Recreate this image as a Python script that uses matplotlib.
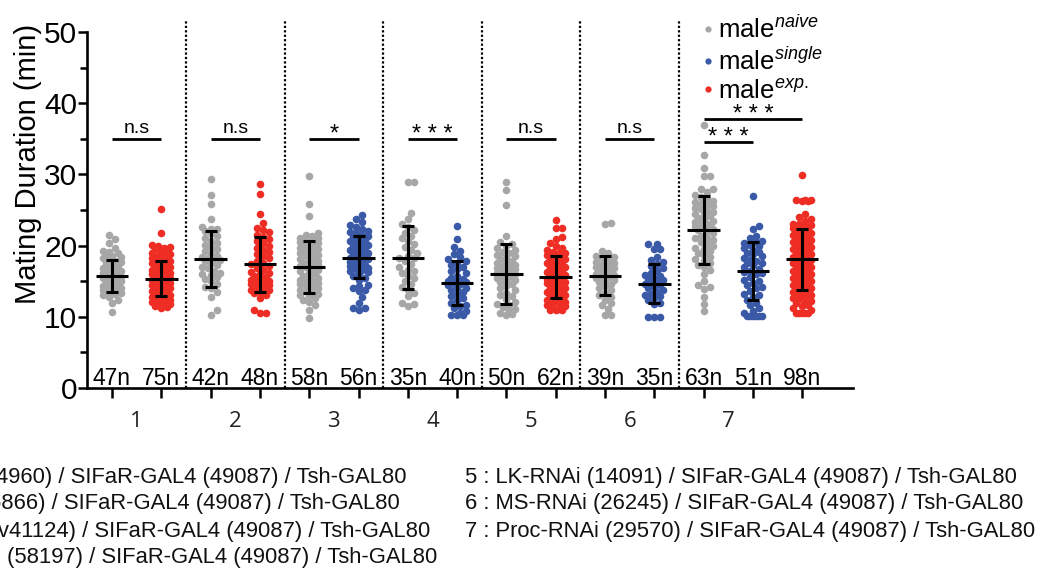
import numpy as np
import matplotlib
matplotlib.use("Agg")
import matplotlib.pyplot as plt
from matplotlib.lines import Line2D

plt.rcParams['font.family'] = ['Liberation Sans', 'DejaVu Sans']
plt.rcParams['mathtext.fontset'] = 'custom'
plt.rcParams['mathtext.rm'] = 'Liberation Sans'
plt.rcParams['mathtext.it'] = 'Liberation Sans:italic'

# ---- data (mating duration, min) ----
naive_1 = [10.7, 12.0, 12.4, 12.8, 13.0, 13.2, 13.4, 13.5, 13.7, 13.9, 14.0, 14.1, 14.3, 14.5, 14.7, 14.9,
           15.0, 15.2, 15.3, 15.5, 15.6, 15.7, 15.7, 15.9, 16.0, 16.2, 16.4, 16.5, 16.7, 16.9, 17.1, 17.3,
           17.5, 17.7, 17.9, 18.0, 18.2, 18.4, 18.6, 18.8, 19.0, 19.1, 19.3, 19.6, 20.3, 20.9, 21.5]
exp_1 = [11.2, 11.4, 11.5, 11.6, 11.8, 12.0, 12.1, 12.3, 12.4, 12.5, 12.6, 12.7, 12.8, 12.9, 13.0, 13.1,
         13.3, 13.4, 13.5, 13.6, 13.8, 13.9, 14.0, 14.1, 14.3, 14.4, 14.5, 14.6, 14.8, 14.9, 15.0, 15.1,
         15.2, 15.3, 15.3, 15.4, 15.5, 15.6, 15.7, 15.8, 16.0, 16.1, 16.2, 16.3, 16.5, 16.6, 16.7, 16.8,
         17.0, 17.1, 17.2, 17.4, 17.5, 17.6, 17.7, 17.8, 17.9, 18.0, 18.2, 18.3, 18.5, 18.6, 18.8, 19.0,
         19.1, 19.3, 19.5, 19.6, 19.8, 19.9, 20.1, 14.2, 16.4, 21.8, 25.1]
naive_2 = [10.3, 11.0, 12.8, 13.5, 14.0, 14.2, 14.6, 15.0, 15.3, 15.6, 15.9, 16.0, 16.2, 16.5, 16.8, 17.0,
           17.3, 17.6, 17.8, 18.0, 18.1, 18.2, 18.4, 18.6, 18.9, 19.2, 19.5, 19.8, 20.1, 20.4, 20.7, 21.0,
           21.4, 21.8, 22.1, 22.3, 22.4, 22.6, 23.8, 25.8, 27.1, 29.3]
exp_2 = [10.5, 10.5, 11.0, 12.6, 13.0, 13.3, 13.5, 13.7, 13.8, 14.0, 14.2, 14.4, 14.6, 14.8, 14.9, 15.0,
         15.2, 15.4, 15.6, 15.8, 16.0, 16.1, 16.3, 16.6, 16.9, 17.2, 17.4, 17.6, 17.9, 18.2, 18.5, 18.8,
         19.1, 19.4, 19.7, 20.0, 20.3, 20.6, 20.9, 21.2, 21.5, 21.9, 22.2, 22.5, 23.2, 24.5, 27.2, 28.7]
naive_3 = [9.9, 10.9, 11.6, 12.1, 12.4, 12.7, 12.9, 13.0, 13.2, 13.4, 13.6, 13.8, 14.0, 14.2, 14.4, 14.6,
           14.8, 15.0, 15.1, 15.2, 15.4, 15.6, 15.8, 16.0, 16.2, 16.4, 16.6, 16.8, 17.0, 17.1, 17.3, 17.5,
           17.6, 17.7, 17.9, 18.1, 18.3, 18.5, 18.7, 18.9, 19.1, 19.3, 19.5, 19.7, 19.9, 20.1, 20.3, 20.5,
           20.6, 20.8, 21.0, 21.1, 21.3, 21.5, 21.7, 24.2, 25.8, 29.8]
single_3 = [10.9, 11.2, 11.3, 12.0, 12.8, 13.6, 13.8, 14.0, 14.3, 14.5, 15.2, 15.5, 15.8, 16.0, 16.3, 16.5,
            16.6, 16.7, 16.9, 17.0, 17.1, 17.3, 17.5, 17.7, 17.9, 18.1, 18.2, 18.3, 18.4, 18.6, 18.8, 18.9,
            19.0, 19.2, 19.4, 19.6, 19.8, 20.0, 20.1, 20.2, 20.4, 20.6, 20.8, 21.0, 21.2, 21.3, 21.5, 21.7,
            21.9, 22.1, 22.3, 22.6, 22.9, 23.3, 23.7, 24.3]
naive_4 = [11.5, 11.8, 11.9, 12.9, 13.4, 13.8, 14.2, 14.6, 15.0, 15.4, 15.8, 16.2, 16.4, 16.6, 17.0, 17.4,
           17.8, 18.2, 18.3, 18.6, 19.0, 19.4, 19.8, 20.2, 20.6, 21.0, 21.4, 21.8, 22.2, 22.6, 23.0, 23.8,
           24.6, 28.9, 28.9]
single_4 = [10.2, 10.2, 10.3, 10.5, 10.8, 11.2, 11.5, 11.7, 12.0, 12.3, 12.6, 12.9, 13.2, 13.5, 13.8, 14.0,
            14.1, 14.4, 14.6, 14.75, 14.9, 15.0, 15.1, 15.3, 15.5, 15.8, 16.1, 16.4, 16.7, 17.0, 17.3, 17.6,
            17.8, 18.1, 18.4, 18.8, 19.3, 19.8, 20.9, 22.7]
naive_5 = [10.3, 10.4, 10.5, 10.8, 11.1, 11.4, 11.7, 11.8, 12.1, 12.5, 12.9, 13.0, 13.3, 13.7, 14.0, 14.3,
           14.6, 14.9, 15.0, 15.2, 15.4, 15.6, 15.8, 16.0, 16.1, 16.3, 16.5, 16.7, 16.9, 17.0, 17.1, 17.3,
           17.5, 17.7, 17.9, 18.1, 18.3, 18.5, 18.7, 18.9, 19.1, 19.4, 19.7, 20.0, 20.2, 20.5, 21.3, 25.7,
           27.8, 28.9]
exp_5 = [10.9, 11.0, 11.0, 11.1, 11.3, 11.5, 11.7, 11.9, 12.0, 12.1, 12.3, 12.5, 12.7, 12.9, 13.0, 13.1,
         13.3, 13.5, 13.7, 13.9, 14.0, 14.1, 14.3, 14.5, 14.7, 14.9, 15.0, 15.1, 15.3, 15.5, 15.6, 15.7,
         15.9, 16.0, 16.1, 16.3, 16.5, 16.7, 16.9, 17.0, 17.1, 17.3, 17.5, 17.7, 17.9, 18.0, 18.1, 18.3,
         18.5, 18.7, 18.9, 19.0, 19.1, 19.4, 19.7, 20.0, 20.4, 20.9, 21.2, 22.5, 22.5, 23.6]
naive_6 = [10.3, 10.3, 11.1, 11.6, 11.9, 12.4, 12.8, 13.1, 13.4, 13.7, 14.0, 14.3, 14.6, 14.9, 15.0, 15.2,
           15.4, 15.6, 15.8, 15.9, 16.0, 16.1, 16.3, 16.5, 16.7, 16.9, 17.0, 17.1, 17.3, 17.5, 17.7, 17.9,
           18.2, 18.4, 18.6, 18.9, 19.3, 23.0, 23.2]
single_6 = [10.0, 10.0, 10.0, 11.8, 12.0, 12.3, 12.6, 12.9, 13.0, 13.2, 13.5, 13.8, 14.0, 14.2, 14.4, 14.6,
            14.7, 14.9, 15.1, 15.3, 15.5, 15.7, 15.9, 16.2, 16.5, 16.8, 17.1, 17.4, 17.7, 18.0, 18.4, 19.5,
            19.5, 20.2, 20.2]
naive_7 = [10.8, 11.8, 12.8, 13.9, 14.2, 14.5, 15.0, 16.0, 16.6, 17.0, 17.3, 17.5, 17.8, 18.1, 18.4, 18.7,
           19.0, 19.3, 19.5, 19.6, 19.9, 20.2, 20.5, 20.8, 21.0, 21.1, 21.4, 21.7, 22.0, 22.2, 22.3, 22.5,
           22.7, 22.9, 23.0, 23.1, 23.3, 23.5, 23.7, 23.9, 24.1, 24.3, 24.5, 24.7, 24.9, 25.1, 25.3, 25.5,
           25.7, 25.9, 26.1, 26.3, 26.5, 26.8, 27.1, 27.5, 28.0, 28.0, 29.8, 29.8, 30.9, 32.7, 36.9]
single_7 = [10.1, 10.1, 10.1, 10.1, 10.1, 10.1, 10.5, 10.8, 11.2, 11.6, 12.0, 12.4, 12.8, 13.0, 13.2, 13.6,
            14.0, 14.2, 14.4, 14.8, 15.0, 15.2, 15.6, 16.0, 16.1, 16.3, 16.5, 16.7, 17.0, 17.3, 17.5, 17.6,
            17.9, 18.0, 18.2, 18.5, 18.8, 19.0, 19.1, 19.4, 19.7, 20.0, 20.1, 20.3, 20.5, 20.7, 21.0, 21.4,
            22.3, 22.75, 26.9]
exp_7 = [10.6, 10.6, 10.6, 10.6, 10.6, 11.0, 11.3, 11.5, 11.6, 11.9, 12.0, 12.2, 12.5, 12.6, 12.8, 13.0,
         13.0, 13.2, 13.4, 13.5, 13.6, 13.8, 14.0, 14.0, 14.2, 14.4, 14.5, 14.6, 14.8, 15.0, 15.0, 15.2,
         15.4, 15.5, 15.6, 15.8, 16.0, 16.0, 16.2, 16.4, 16.5, 16.6, 16.8, 17.0, 17.0, 17.2, 17.4, 17.5,
         17.6, 17.8, 18.0, 18.0, 18.1, 18.2, 18.4, 18.5, 18.6, 18.8, 19.0, 19.0, 19.2, 19.4, 19.5, 19.6,
         19.8, 20.0, 20.0, 20.2, 20.4, 20.5, 20.6, 20.8, 21.0, 21.0, 21.2, 21.4, 21.5, 21.6, 21.8, 22.0,
         22.0, 22.2, 22.3, 22.5, 22.7, 22.9, 23.0, 23.1, 23.4, 23.7, 24.0, 24.5, 26.2, 26.3, 26.4, 26.4,
         26.4, 29.9]

series_values = [naive_1, exp_1, naive_2, exp_2, naive_3, single_3, naive_4, single_4,
                 naive_5, exp_5, naive_6, single_6, naive_7, single_7, exp_7]
series_kind = ['naive', 'exp', 'naive', 'exp', 'naive', 'single', 'naive', 'single',
               'naive', 'exp', 'naive', 'single', 'naive', 'single', 'exp']
series_slot = [0, 1, 2, 3, 4, 5, 6, 7, 8, 9, 10, 11, 12, 13, 14]
medians = [15.7, 15.35, 18.1, 17.4, 16.95, 18.3, 18.3, 14.75, 16.0, 15.6, 15.8, 14.65, 22.2, 16.5, 18.1]
q1s = [13.5, 12.9, 14.2, 13.5, 13.3, 15.4, 13.9, 11.7, 11.8, 12.7, 13.1, 12.0, 17.4, 12.4, 13.8]
q3s = [18.0, 17.8, 22.1, 21.2, 20.6, 21.3, 22.75, 17.8, 20.2, 18.5, 18.6, 17.4, 27.0, 20.5, 22.3]
n_counts = [47, 75, 42, 48, 58, 56, 35, 40, 50, 62, 39, 35, 63, 51, 98]

group_labels = ['1', '2', '3', '4', '5', '6', '7']
group_pos = [0.5, 2.5, 4.5, 6.5, 8.5, 10.5, 12.5]
separators = [1.5, 3.5, 5.5, 7.5, 9.5, 11.5]

# significance: (slot a, slot b, height, label)
sig_pairs = [(0, 1, 35.0, 'n.s'), (2, 3, 35.0, 'n.s'), (4, 5, 35.0, '*'), (6, 7, 35.0, '* * *'),
             (8, 9, 35.0, 'n.s'), (10, 11, 35.0, 'n.s'), (12, 13, 34.6, '* * *'), (12, 14, 37.8, '* * *')]

genotypes_left = ["4960) / SIFaR-GAL4 (49087) / Tsh-GAL80",
                  "5866) / SIFaR-GAL4 (49087) / Tsh-GAL80",
                  "v41124) / SIFaR-GAL4 (49087) / Tsh-GAL80",
                  "(58197) / SIFaR-GAL4 (49087) / Tsh-GAL80"]
genotypes_right = ["5 : LK-RNAi (14091) / SIFaR-GAL4 (49087) / Tsh-GAL80",
                   "6 : MS-RNAi (26245) / SIFaR-GAL4 (49087) / Tsh-GAL80",
                   "7 : Proc-RNAi (29570) / SIFaR-GAL4 (49087) / Tsh-GAL80"]

colors = {'naive': '#a7a7a7', 'single': '#3a5aa8', 'exp': '#ee2e24'}
legend_labels = {'naive': r'male$^{\mathit{naive}}$',
                 'single': r'male$^{\mathit{single}}$',
                 'exp': r'male$^{\mathit{exp.}}$'}

# ---- layout ----
W, H = 1051, 568
fig = plt.figure(figsize=(W / 100, H / 100), dpi=100)
ax = fig.add_axes([87 / W, (H - 388) / H, 766 / W, 356 / H])
xlim = (-0.507, 15.03)
ylim = (0, 50)
ax.set_xlim(*xlim)
ax.set_ylim(*ylim)

px_x = 766 / (xlim[1] - xlim[0])
px_y = 356 / (ylim[1] - ylim[0])


def swarm_offsets(vals, d=6.0, max_off=11.0):
    """simple beeswarm in pixel space, returns x offsets (data units)"""
    vals = np.asarray(vals, dtype=float)
    order = np.argsort(vals, kind='stable')
    step = d / 2
    cands = [0.0]
    k = 1
    while k * step <= max_off:
        cands += [k * step, -k * step]
        k += 1
    placed = []
    offs = np.zeros(len(vals))
    for i in order:
        y = vals[i] * px_y
        best, best_score = 0.0, -1
        for c in cands:
            if placed:
                p = np.array(placed)
                dist = np.min(np.hypot(p[:, 0] - c, p[:, 1] - y))
            else:
                dist = np.inf
            if dist >= d:
                best = c
                break
            if dist > best_score:
                best, best_score = c, dist
        placed.append((best, y))
        offs[i] = best / px_x
    return offs


for vals, kind, slot in zip(series_values, series_kind, series_slot):
    xs = slot + swarm_offsets(vals)
    ax.scatter(xs, vals, s=30, color=colors[kind], linewidths=0, zorder=2, clip_on=False)

# median + IQR
for slot, med, lo, hi in zip(series_slot, medians, q1s, q3s):
    ax.errorbar(slot, med, yerr=[[med - lo], [hi - med]], fmt='none', ecolor='black',
                elinewidth=2.2, capsize=4.2, capthick=2.2, zorder=3)
    ax.hlines(med, slot - 0.33, slot + 0.33, color='black', lw=2.2, zorder=3)

# n labels
for slot, n in zip(series_slot, n_counts):
    ax.text(slot, 0.45, f'{n}n', ha='center', va='baseline', fontsize=16.5, zorder=4)

# dotted separators
ax.vlines(separators, 0, 51.7, colors='black', linestyles=(0, (1, 1)), lw=1.6, clip_on=False)

# significance bars
for a, b, yy, lab in sig_pairs:
    ax.hlines(yy, a, b, color='black', lw=2.0)
    if lab == 'n.s':
        ax.text((a + b) / 2, yy + 0.25, lab, ha='center', va='bottom', fontsize=14)
    else:
        # asterisks sit high in the em box, pull them down onto the bar
        ax.text((a + b) / 2, yy - 1.0, lab, ha='center', va='bottom', fontsize=17)

# axes styling
for s in ['top', 'right']:
    ax.spines[s].set_visible(False)
for s in ['left', 'bottom']:
    ax.spines[s].set_linewidth(1.9)
ax.set_yticks([0, 10, 20, 30, 40, 50])
ax.set_yticks([5, 15, 25, 35, 45], minor=True)
ax.tick_params(axis='y', which='major', labelsize=21.5, length=6.5, width=1.8, pad=0.5)
ax.tick_params(axis='y', which='minor', length=5, width=1.8)
ax.set_xticks(series_slot)
ax.set_xticklabels([])
ax.tick_params(axis='x', which='major', length=7, width=1.8)

for lab, gx in zip(group_labels, group_pos):
    ax.text(gx, -0.0955, lab, transform=ax.get_xaxis_transform(), ha='center', va='center',
            fontsize=16, family=['Open Sans', 'DejaVu Sans'], color='#222222')

fig.text(28 / W, 1 - 164 / H, 'Mating Duration (min)', rotation=90, ha='center', va='center',
         fontsize=21)

# legend
handles = [Line2D([], [], marker='o', ls='none', ms=4.5, color=colors[k], mew=0)
           for k in ['naive', 'single', 'exp']]
fig.legend(handles, [legend_labels[k] for k in ['naive', 'single', 'exp']],
           loc='upper left', bbox_to_anchor=(704 / W, 1 - 16 / H), frameon=False,
           fontsize=18.5, handlelength=0.35, handletextpad=0.2, labelspacing=0.18,
           borderpad=0, borderaxespad=0)

# genotype key
line_y = [477, 504, 531, 558]
left_end = [407, 400, 430, 437]
for txt, yy, xe in zip(genotypes_left, line_y, left_end):
    fig.text(xe / W, 1 - yy / H, txt, ha='right', va='center', fontsize=15.8, color='#111111')
for txt, yy in zip(genotypes_right, line_y):
    fig.text(465 / W, 1 - yy / H, txt, ha='left', va='center', fontsize=15.8, color='#111111')

fig.savefig('out.png', dpi=100)
